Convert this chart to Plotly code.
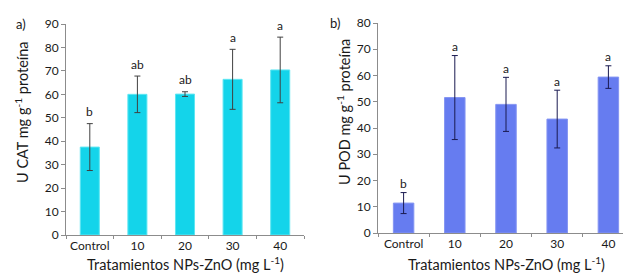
import plotly.graph_objects as go

categories = ["Control", "10", "20", "30", "40"]
cat_means = [37.5, 60.0, 60.1, 66.4, 70.4]
cat_errors = [10.0, 7.8, 1.0, 12.8, 14.0]
cat_letters = ["b", "ab", "ab", "a", "a"]

pod_means = [11.4, 51.6, 49.0, 43.4, 59.4]
pod_errors = [4.0, 16.0, 10.3, 11.0, 4.3]
pod_letters = ["b", "a", "a", "a", "a"]

W, H = 631, 280
FONT = "Lato"

fig = go.Figure()
fig.add_trace(go.Bar(
    x=categories, y=cat_means, width=0.4,
    marker=dict(color="#14d4ea", line=dict(color="#5ee6f2", width=1)),
    error_y=dict(type="data", array=cat_errors, color="#404040", thickness=1, width=3),
    xaxis="x", yaxis="y", showlegend=False,
))
fig.add_trace(go.Bar(
    x=categories, y=pod_means, width=0.4,
    marker=dict(color="#667cf0", line=dict(color="#8494f2", width=1)),
    error_y=dict(type="data", array=pod_errors, color="#1a1a50", thickness=1, width=3),
    xaxis="x2", yaxis="y2", showlegend=False,
))

axis_common = dict(showline=True, linecolor="#8c8c8c", linewidth=1, showgrid=False,
                   zeroline=False, tickfont=dict(family=FONT, size=12, color="#1a1a1a"))
n = len(categories)

fig.update_layout(
    width=W, height=H,
    margin=dict(l=0, r=0, t=0, b=0, autoexpand=False),
    plot_bgcolor="white", paper_bgcolor="white",
    bargap=0.6,
    xaxis=dict(domain=[58 / W, 296 / W], anchor="y", type="category", range=[-0.5, n - 0.5],
               ticks="outside", tickson="boundaries", ticklen=3, tickcolor="#8c8c8c",
               tickangle=0, automargin=False, **axis_common),
    yaxis=dict(domain=[(H - 227) / H, (H - 16) / H], anchor="x", range=[0, 90], dtick=10,
               ticks="outside", ticklen=4, tickcolor="#8c8c8c", automargin=False,
               **axis_common),
    xaxis2=dict(domain=[370 / W, 626 / W], anchor="y2", type="category", range=[-0.5, n - 0.5],
                ticks="outside", tickson="boundaries", ticklen=3, tickcolor="#8c8c8c",
                tickangle=0, automargin=False, **axis_common),
    yaxis2=dict(domain=[(H - 225) / H, (H - 15) / H], anchor="x2", range=[0, 80], dtick=10,
                ticks="outside", ticklen=4, tickcolor="#8c8c8c", automargin=False,
                **axis_common),
)

annotations = []
for i, (m, e, L) in enumerate(zip(cat_means, cat_errors, cat_letters)):
    annotations.append(dict(x=i, y=m + e, xref="x", yref="y", text=L, showarrow=False,
                            xanchor="center", yanchor="middle",
                            yshift=12, font=dict(family=FONT, size=12, color="#1a1a1a")))
for i, (m, e, L) in enumerate(zip(pod_means, pod_errors, pod_letters)):
    annotations.append(dict(x=i, y=m + e, xref="x2", yref="y2", text=L, showarrow=False,
                            xanchor="center", yanchor="middle",
                            yshift=9, font=dict(family=FONT, size=12, color="#1a1a1a")))

title_font = dict(family=FONT, size=14.5, color="#1a1a1a")
def paper_text(x, y, text, font, angle=0):
    return dict(x=x / W, y=(H - y) / H, xref="paper", yref="paper", text=text,
                textangle=angle, showarrow=False, xanchor="center", yanchor="middle",
                font=font)

annotations += [
    paper_text(13, 104, "U CAT mg g<sup>-1</sup> proteína", title_font, -90),
    paper_text(335, 104, "U POD mg g<sup>-1</sup> proteína", title_font, -90),
    paper_text(177, 255, "Tratamientos NPs-ZnO (mg L<sup>-1</sup>)", title_font),
    paper_text(498, 255, "Tratamientos NPs-ZnO (mg L<sup>-1</sup>)", title_font),
    paper_text(13, 16, "a)", dict(family=FONT, size=13, color="#1a1a1a")),
    paper_text(327, 15, "b)", dict(family=FONT, size=13, color="#1a1a1a")),
]
fig.update_layout(annotations=annotations)

fig.write_html("out.html")
